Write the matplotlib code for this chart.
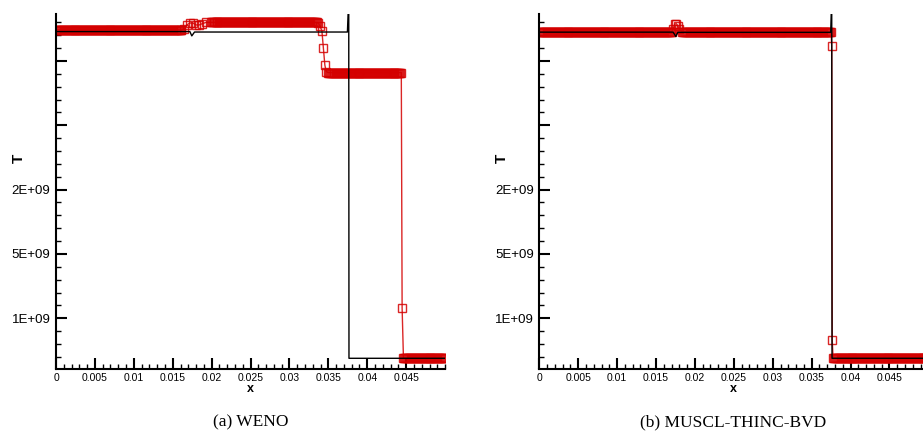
import numpy as np
import matplotlib
matplotlib.use("Agg")
import matplotlib.pyplot as plt
from matplotlib.ticker import MultipleLocator

# y is stored in axis units: major ticks sit at 1..5, labelled as in the source figure
y_ticks = [1, 2, 3, 4, 5]
y_tick_labels = ["1E+09", "5E+09", "2E+09", "", ""]
x_ticks = [0, 0.005, 0.01, 0.015, 0.02, 0.025, 0.03, 0.035, 0.04, 0.045]
x_tick_labels = ["0", "0.005", "0.01", "0.015", "0.02", "0.025", "0.03", "0.035", "0.04", "0.045"]

n_cells = 400

# WENO (numerical): plateaus (x_start, x_end, T) and transition points
weno_plateaus = [(0.0, 0.0162, 5.483), (0.0198, 0.0335, 5.600),
                 (0.0349, 0.0444, 4.820), (0.0447, 0.05, 0.378)]
weno_trans_x = [0.0165, 0.0168, 0.0172, 0.0176, 0.0180, 0.0184, 0.0188, 0.0193,
                0.0337, 0.0339, 0.03417, 0.03435, 0.03455, 0.03473, 0.04448, 0.04465]
weno_trans_T = [5.50, 5.56, 5.59, 5.59, 5.56, 5.56, 5.58, 5.60,
                5.59, 5.55, 5.468, 5.208, 4.935, 4.835, 1.160, 0.378]

# exact solution, left panel
exact_a_x = [0.0, 0.0172, 0.01745, 0.0178, 0.03745, 0.03762, 0.03765, 0.05]
exact_a_T = [5.457, 5.457, 5.39, 5.45, 5.45, 6.0, 0.378, 0.378]

# MUSCL-THINC-BVD (numerical)
bvd_plateaus = [(0.0, 0.0170, 5.453), (0.0183, 0.0375, 5.453), (0.0377, 0.05, 0.378)]
bvd_trans_x = [0.0172, 0.0174, 0.0176, 0.0178, 0.0180, 0.03758, 0.03765]
bvd_trans_T = [5.50, 5.57, 5.58, 5.55, 5.49, 5.235, 0.658]

# exact solution, right panel
exact_b_x = [0.0, 0.0172, 0.01755, 0.0178, 0.03745, 0.03758, 0.03762, 0.05]
exact_b_T = [5.448, 5.448, 5.38, 5.445, 5.445, 6.0, 0.378, 0.378]


def build_profile(plateaus, trans_x, trans_T):
    grid = np.linspace(0, 0.05, n_cells + 1)
    xs, ts = [], []
    for x0, x1, t in plateaus:
        pts = grid[(grid >= x0) & (grid <= x1)]
        xs.extend(pts)
        ts.extend([t] * len(pts))
    xs.extend(trans_x)
    ts.extend(trans_T)
    order = np.argsort(xs)
    return np.array(xs)[order], np.array(ts)[order]


def style_axes(ax):
    ax.set_xlim(0, 0.05)
    ax.set_ylim(0.207, 5.73)
    ax.spines["top"].set_visible(False)
    ax.spines["right"].set_visible(False)
    ax.spines["left"].set_linewidth(1.5)
    ax.spines["bottom"].set_linewidth(1.5)
    ax.set_xticks(x_ticks)
    ax.set_xticklabels(x_tick_labels, family=["Liberation Sans Narrow", "Liberation Sans"], fontsize=7.5)
    ax.set_yticks(y_ticks)
    ax.set_yticklabels(y_tick_labels, family="Liberation Sans", fontsize=9.5)
    ax.xaxis.set_minor_locator(MultipleLocator(0.001))
    ax.yaxis.set_minor_locator(MultipleLocator(0.2))
    ax.tick_params(which="major", direction="in", length=8, width=1.5, pad=4)
    ax.tick_params(axis="x", which="major", pad=3)
    ax.tick_params(which="minor", direction="in", length=3.5, width=1)
    ax.tick_params(top=False, right=False, which="both")
    ax.set_xlabel("x", fontweight="bold", fontsize=9, family="Liberation Sans", labelpad=0)


fig = plt.figure(figsize=(9.23, 4.42), dpi=100)
red = "#d40000"

panels = [
    (0.0607, build_profile(weno_plateaus, weno_trans_x, weno_trans_T), exact_a_x, exact_a_T, "(a) WENO", 251),
    (0.5843, build_profile(bvd_plateaus, bvd_trans_x, bvd_trans_T), exact_b_x, exact_b_T, "(b) MUSCL-THINC-BVD", 733),
]

for left, (num_x, num_T), ex_x, ex_T, caption, cx in panels:
    ax = fig.add_axes([left, 0.1645, 0.4215, 0.8038])
    ax.plot(num_x, num_T, color=red, lw=1, marker="s", ms=5.5, mfc="none",
            mec=red, mew=1.0, alpha=0.85, zorder=2)
    ax.plot(ex_x, ex_T, color="black", lw=1, zorder=3)
    style_axes(ax)
    fig.text(cx / 923, 1 - 422 / 442, caption, ha="center", va="center",
             family="Liberation Serif", fontsize=12.5)
    fig.text((left * 923 - 37) / 923, 1 - 158 / 442, "T", rotation=90, ha="center",
             va="center", fontweight="bold", fontsize=11, family="Liberation Sans")

fig.savefig("out.png", dpi=100)
